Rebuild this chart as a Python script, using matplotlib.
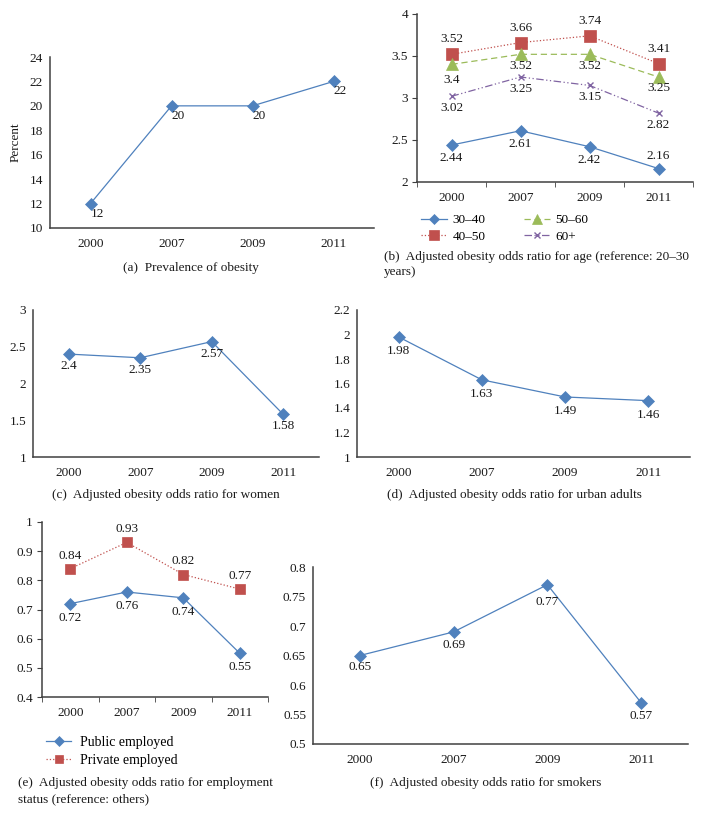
import matplotlib
matplotlib.use("Agg")
import matplotlib.pyplot as plt
from matplotlib.ticker import MultipleLocator, FuncFormatter

plt.rcParams['font.family'] = ['Liberation Serif', 'DejaVu Serif']
plt.rcParams['font.size'] = 9

years = ["2000", "2007", "2009", "2011"]

# (a) prevalence of obesity
prevalence = [12, 20, 20, 22]

# (b) age groups
age_30_40 = [2.44, 2.61, 2.42, 2.16]
age_40_50 = [3.52, 3.66, 3.74, 3.41]
age_50_60 = [3.4, 3.52, 3.52, 3.25]
age_60_plus = [3.02, 3.25, 3.15, 2.82]

# (c) women, (d) urban adults
women = [2.4, 2.35, 2.57, 1.58]
urban = [1.98, 1.63, 1.49, 1.46]

# (e) employment status
public_emp = [0.72, 0.76, 0.74, 0.55]
private_emp = [0.84, 0.93, 0.82, 0.77]

# (f) smokers
smokers = [0.65, 0.69, 0.77, 0.57]

BLUE = '#4F81BD'
RED = '#C0504D'
GREEN = '#9BBB59'
PURPLE = '#8064A2'
AXC = '#404040'
TXT = '#1a1a1a'

W, H = 703, 825
fig = plt.figure(figsize=(W / 100, H / 100), dpi=100)


def make_ax(l, r, t, b):
    return fig.add_axes([l / W, 1 - b / H, (r - l) / W, (b - t) / H])


def style(ax, ymin, ymax, step, ticks=False):
    x = range(len(years))
    ax.set_xlim(-0.5, len(years) - 0.5)
    ax.set_ylim(ymin, ymax)
    ax.set_xticks(list(x))
    ax.set_xticklabels(years)
    ax.yaxis.set_major_locator(MultipleLocator(step))
    ax.yaxis.set_major_formatter(FuncFormatter(lambda v, p: f"{round(v, 3):g}"))
    for s in ['top', 'right']:
        ax.spines[s].set_visible(False)
    for s in ['left', 'bottom']:
        ax.spines[s].set_color(AXC)
        ax.spines[s].set_linewidth(1.1)
    ax.tick_params(axis='x', length=0, pad=7, labelsize=9.5, colors=TXT)
    if ticks:
        ax.set_xticks([i - 0.5 for i in range(len(years) + 1)], minor=True)
        ax.tick_params(axis='x', which='minor', length=3.5, color=AXC, direction='out')
        ax.tick_params(axis='y', length=3.5, color=AXC, pad=3, labelsize=9.5, colors=TXT)
    else:
        ax.tick_params(axis='y', length=0, pad=5, labelsize=9.5, colors=TXT)
    ax.set_facecolor('none')


def series(ax, vals, color, marker, ms, ls='-', label=None, dy=-13, dx=0, place=None):
    x = list(range(len(vals)))
    ax.plot(x, vals, color=color, marker=marker, markersize=ms, linestyle=ls,
            linewidth=0.9, label=label, markeredgecolor=color, markeredgewidth=1 if marker == 'x' else 0.5,
            clip_on=False, zorder=3)
    for i, v in enumerate(vals):
        oy = dy if place is None else place[i]
        ax.annotate(f"{v:g}", (i, v), xytext=(dx, oy), textcoords='offset pixels',
                    ha='center', va='center', fontsize=9.5, color=TXT)


def caption(x, y, s, ha='left'):
    fig.text(x / W, 1 - y / H, s, ha=ha, va='center', fontsize=9.5, color=TXT)


# (a)
ax = make_ax(50, 374, 57, 228)
style(ax, 10, 24, 2)
series(ax, prevalence, BLUE, 'D', 6, dy=-10, dx=7)
ax.set_ylabel("Percent", fontsize=9.5, color=TXT, labelpad=6)
caption(191, 268, "(a)  Prevalence of obesity", ha='center')

# (b)
ax = make_ax(417, 693, 14, 182)
style(ax, 2, 4, 0.5, ticks=True)
series(ax, age_30_40, BLUE, 'D', 6, '-', '30–40', place=[-13, -13, -13, 13])
series(ax, age_40_50, RED, 's', 8, ':', '40–50', dy=15)
series(ax, age_50_60, GREEN, '^', 8, (0, (5, 3)), '50–60', place=[-16, -12, -12, -11])
series(ax, age_60_plus, PURPLE, 'x', 5, (0, (6, 2, 1, 2, 1, 2)), '60+', dy=-12)
ax.legend(ncol=2, loc='upper left', bbox_to_anchor=(-0.005, -0.16), frameon=False,
          fontsize=9.5, handlelength=2.0, columnspacing=2.9, labelspacing=0.3,
          handletextpad=0.4, borderaxespad=0, markerscale=0.85)
caption(384, 257, "(b)  Adjusted obesity odds ratio for age (reference: 20–30")
caption(384, 272, "years)")

# (c)
ax = make_ax(33, 319, 310, 457)
style(ax, 1, 3, 0.5)
series(ax, women, BLUE, 'D', 6, dy=-12)
caption(166, 495, "(c)  Adjusted obesity odds ratio for women", ha='center')

# (d)
ax = make_ax(357, 690, 310, 457)
style(ax, 1, 2.2, 0.2)
series(ax, urban, BLUE, 'D', 6, dy=-14)
caption(514, 495, "(d)  Adjusted obesity odds ratio for urban adults", ha='center')

# (e)
ax = make_ax(42, 268, 522, 697)
style(ax, 0.4, 1, 0.1, ticks=True)
series(ax, public_emp, BLUE, 'D', 6, '-', 'Public employed', dy=-14)
series(ax, private_emp, RED, 's', 7, ':', 'Private employed', dy=13)
ax.legend(loc='upper left', bbox_to_anchor=(-0.005, -0.19), frameon=False,
          fontsize=10, handlelength=1.8, labelspacing=0.35, handletextpad=0.6,
          borderaxespad=0, markerscale=0.9)
caption(18, 783, "(e)  Adjusted obesity odds ratio for employment")
caption(18, 799, "status (reference: others)")

# (f)
ax = make_ax(313, 688, 567, 744)
style(ax, 0.5, 0.8, 0.05)
series(ax, smokers, BLUE, 'D', 6, place=[-12, -13, -17, -13])
caption(486, 783, "(f)  Adjusted obesity odds ratio for smokers", ha='center')

fig.savefig("out.png", dpi=100, facecolor='white')
